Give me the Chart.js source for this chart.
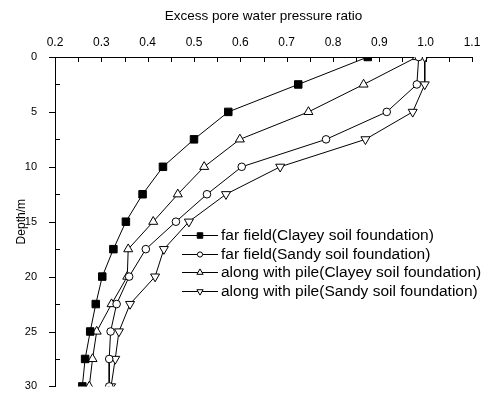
<!DOCTYPE html>
<html><head><meta charset="utf-8">
<script src="https://cdn.jsdelivr.net/npm/chart.js@4.4.1/dist/chart.umd.min.js"></script>
<style>html,body{margin:0;padding:0;background:#fff}#w{width:482px;height:403px;position:relative}</style>
</head><body><div id="w"><canvas id="c"></canvas></div>
<script>
const depths = [0, 2.5, 5, 7.5, 10, 12.5, 15, 17.5, 20, 22.5, 25, 27.5, 30];
const farClayey  = [0.875, 0.725, 0.574, 0.500, 0.433, 0.389, 0.353, 0.326, 0.302, 0.288, 0.276, 0.265, 0.259];
const farSandy   = [0.985, 0.981, 0.916, 0.785, 0.603, 0.528, 0.461, 0.396, 0.360, 0.333, 0.320, 0.317, 0.317];
const pileClayey = [0.981, 0.866, 0.747, 0.599, 0.522, 0.465, 0.412, 0.358, 0.356, 0.322, 0.290, 0.281, 0.274];
const pileSandy  = [0.998, 0.998, 0.972, 0.870, 0.686, 0.569, 0.489, 0.435, 0.416, 0.362, 0.338, 0.330, 0.321];
const seriesLabels = [
  'far field(Clayey soil foundation)',
  'far field(Sandy soil foundation)',
  'along with pile(Clayey soil foundation)',
  'along with pile(Sandy soil foundation)'
];
const xTickValues = [0.2, 0.3, 0.4, 0.5, 0.6, 0.7, 0.8, 0.9, 1.0, 1.1];
const xTickLabels = ['0.2','0.3','0.4','0.5','0.6','0.7','0.8','0.9','1.0','1.1'];
const yTickValues = [0, 5, 10, 15, 20, 25, 30];
const yTickLabels = ['0','5','10','15','20','25','30'];

const FONT = 'Liberation Sans, Arial, sans-serif';
function pts(vals){ return vals.map((v,i)=>({x:v, y:depths[i]})); }
function labelFor(values, labels, v){
  let best = 0, bd = Infinity;
  values.forEach((t,i)=>{ const d = Math.abs(t - v); if (d < bd){ bd = d; best = i; } });
  return bd < 1e-6 ? labels[best] : '';
}
const styles = [
  {pointStyle:'rect', radius:5.3, legendRadius:3.9, fill:'#000', rotation:0},
  {pointStyle:'circle', radius:3.8, legendRadius:2.6, fill:'#fff', rotation:0},
  {pointStyle:'triangle', radius:5.2, legendRadius:3.6, fill:'#fff', rotation:0},
  {pointStyle:'triangle', radius:5.2, legendRadius:3.6, fill:'#fff', rotation:180}
];
const allVals = [farClayey, farSandy, pileClayey, pileSandy];
const datasets = allVals.map((vals,i)=>({
  label: seriesLabels[i],
  data: pts(vals),
  showLine: true,
  borderColor:'#000', borderWidth:1,
  pointStyle: styles[i].pointStyle,
  pointRadius: styles[i].radius,
  pointRotation: styles[i].rotation,
  pointBackgroundColor: styles[i].fill,
  pointBorderColor:'#000', pointBorderWidth:1,
  clip: 0
}));

const customTicks = {
  id:'customTicks',
  afterDraw(chart){
    const ctx = chart.ctx, a = chart.chartArea;
    const xs = chart.scales.x, ys = chart.scales.y;
    ctx.save();
    ctx.strokeStyle='#000'; ctx.lineWidth=1;
    ctx.beginPath();
    for(let k=0;k<=18;k++){
      const v = 0.2 + k*0.05;
      const px = Math.round(xs.getPixelForValue(v))+0.5;
      ctx.moveTo(px, a.top); ctx.lineTo(px, a.top+5);
    }
    for(let k=0;k<=12;k++){
      const v = k*2.5;
      const py = Math.round(ys.getPixelForValue(v))+0.5;
      if(k%2===0){ ctx.moveTo(a.left-6, py); ctx.lineTo(a.left, py); }
      else { ctx.moveTo(a.left, py); ctx.lineTo(a.left+5, py); }
    }
    ctx.stroke();
    // legend
    const lx0 = 182, lx1 = 218, mx = 200, tx = 221;
    const ly = [235, 253.5, 272, 291];
    ctx.font = '15.5px ' + FONT;
    ctx.textBaseline = 'middle';
    ctx.textAlign = 'left';
    chart.data.datasets.forEach((ds,i)=>{
      const y = Math.round(ly[i])+0.5;
      ctx.strokeStyle='#000';
      ctx.beginPath();
      ctx.moveTo(lx0, y); ctx.lineTo(lx1, y);
      ctx.stroke();
      ctx.fillStyle = ds.pointBackgroundColor;
      Chart.helpers.drawPoint(ctx, {pointStyle: ds.pointStyle, radius: styles[i].legendRadius, rotation: ds.pointRotation, borderWidth:1}, mx, y);
      ctx.fillStyle = '#000';
      ctx.fillText(ds.label, tx, y);
    });
    ctx.restore();
  }
};

new Chart(document.getElementById('c'), {
  type:'scatter',
  data:{datasets},
  plugins:[customTicks],
  options:{
    responsive:true, maintainAspectRatio:false, animation:false, devicePixelRatio:1,
    layout:{padding:{left:0, right:10, top:0, bottom:9}},
    plugins:{legend:{display:false}, tooltip:{enabled:false}},
    scales:{
      x:{
        type:'linear', position:'top', min:0.2, max:1.1,
        ticks:{stepSize:0.1, color:'#000', font:{family:FONT, size:12}, padding:-1,
          callback:(v)=>labelFor(xTickValues, xTickLabels, v)},
        grid:{display:false},
        border:{display:true, color:'#000', width:1},
        title:{display:true, text:'Excess pore water pressure ratio', color:'#000', font:{family:FONT, size:13.5}, padding:{top:8,bottom:0}},
        afterFit(s){ s.height = 57; }
      },
      y:{
        type:'linear', reverse:true, min:0, max:30,
        ticks:{stepSize:5, color:'#000', font:{family:FONT, size:11}, padding:10,
          callback:(v)=>labelFor(yTickValues, yTickLabels, v)},
        grid:{display:false},
        border:{display:true, color:'#000', width:1},
        title:{display:true, text:'Depth/m', color:'#000', font:{family:FONT, size:12}, padding:{top:14,bottom:0}},
        afterFit(s){ s.width = 55; }
      }
    }
  }
});
</script>
</body></html>
